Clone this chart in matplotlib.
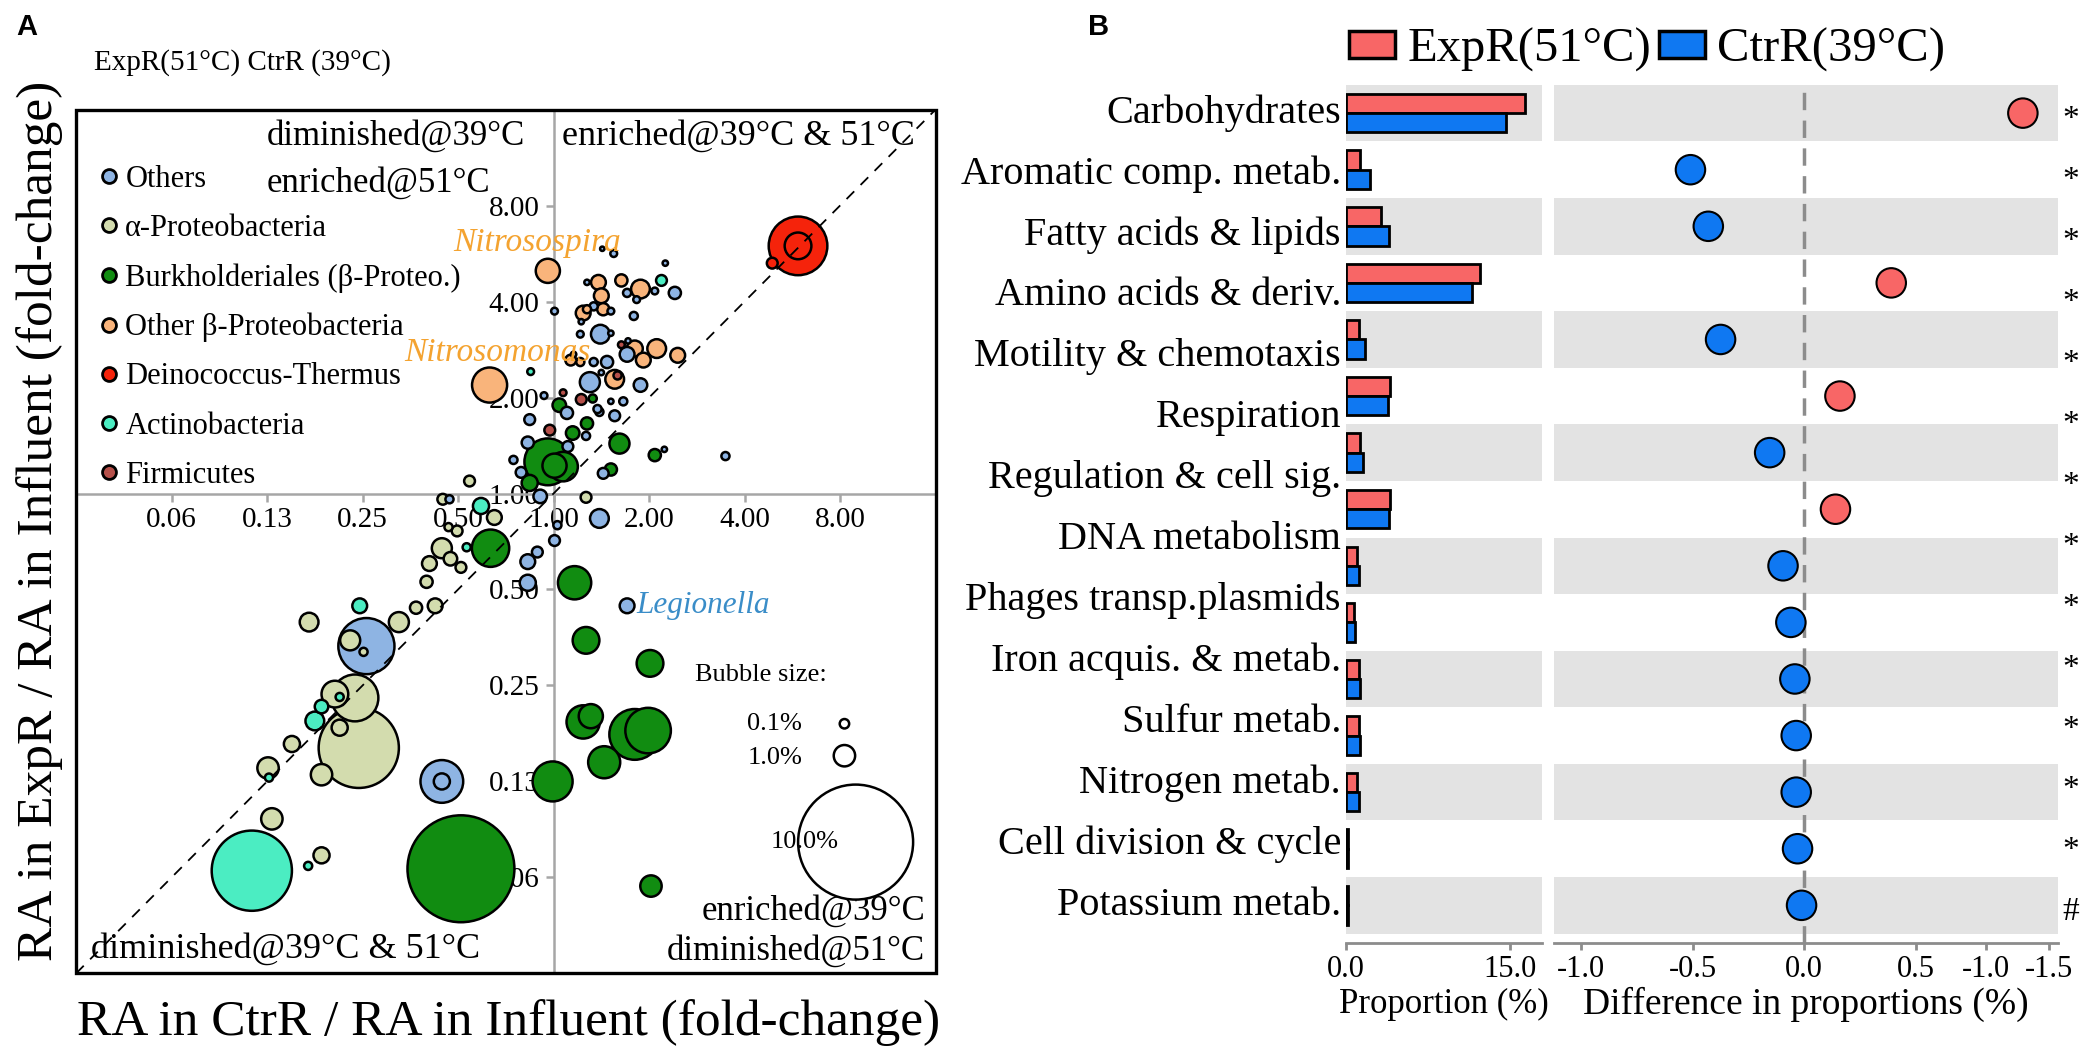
import numpy as np
import matplotlib.pyplot as plt
import matplotlib.transforms as mtransforms
from matplotlib.lines import Line2D
from matplotlib.patches import Patch, Rectangle

plt.rcParams['font.family'] = ['Liberation Serif', 'DejaVu Serif']

# ---------------- panel A data ----------------
# log2 fold-change (reactor / influent), x = CtrR 39C, y = ExpR 51C, ra = relative abundance (%)
groups = ["Others", "α-Proteobacteria", "Burkholderiales (β-Proteo.)",
          "Other β-Proteobacteria", "Deinococcus-Thermus", "Actinobacteria", "Firmicutes"]
group_colors = ["#8EB4E3", "#D3DCAE", "#118C11", "#F9B47B", "#F5230B", "#4BEDC2", "#B5504A"]

others_x = [0.63, 1.27, 0.42, 0.84, 0.49, 0.77, 0.42, 0.56, 0.38, 0.91, 0.14, 0.46, 0.64, 0.73,
            -0.25, -0.27, -0.42, -0.34, 0.15, 0.34, 0.48, 0.52, 1.16, 1.80, -0.14, -1.09, 0.04,
            0.01, 0.48, -0.17, -0.27, -0.27, 0.77, -1.96, -1.17, -1.17,
            0.51, 1.17, 1.06, 0.77, 0.87, 0.35, 0.60, 0.01, 0.29, 0.28, 0.60, 0.78, 0.21, 0.50,
            -0.10, 0.60]
others_y = [2.50, 2.09, 1.95, 1.85, 1.66, 1.45, 1.37, 1.37, 1.16, 1.13, 0.84, 0.88, 0.81, 0.96,
            0.77, 0.53, 0.35, 0.22, 0.49, 0.60, 0.85, 0.21, 0.46, 0.39, -0.03, -0.06, -0.33,
            -0.49, -0.26, -0.61, -0.71, -0.93, -1.17, -1.59, -3.00, -3.00,
            2.55, 2.40, 2.11, 2.09, 2.02, 2.20, 1.90, 1.90, 1.79, 1.66, 1.67, 1.59, 1.45, 1.26,
            1.02, 0.96]
others_ra = [0.016, 0.17, 0.04, 0.04, 0.6, 0.28, 0.04, 0.17, 0.77, 0.22, 0.17, 0.04, 0.13, 0.04,
             0.13, 0.17, 0.04, 0.13, 0.13, 0.04, 0.04, 0.13, 0.006, 0.04, 0.22, 0.04, 0.04,
             0.13, 0.6, 0.13, 0.28, 0.36, 0.28, 2.35, 1.69, 0.36,
             0.003, 0.006, 0.016, 0.04, 0.016, 0.006, 0.016, 0.016, 0.006, 0.016, 0.006, 0.006,
             0.006, 0.006, 0.016, 0.006]

alpha_x = [-0.88, -1.16, 0.34, -0.62, -1.17, -1.30, -1.08, -1.01, -1.10, -0.97, -1.33, -1.44,
           -1.24, -1.62, -2.56, -2.13, -1.99, -2.08, -2.29, -2.04, -2.24, -2.74, -2.99, -2.43,
           -2.95, -2.43]
alpha_y = [0.13, -0.06, -0.04, -0.25, -0.57, -0.73, -0.68, -0.39, -0.35, -0.77, -0.92, -1.19,
           -1.17, -1.34, -1.34, -1.53, -1.65, -2.13, -2.09, -2.65, -2.44, -2.61, -2.86, -2.93,
           -3.39, -3.77]
alpha_ra = [0.13, 0.13, 0.13, 0.28, 0.77, 0.28, 0.22, 0.13, 0.04, 0.13, 0.17, 0.17, 0.28, 0.77,
            0.6, 0.77, 0.04, 1.87, 1.14, 4.25, 0.36, 0.36, 1.0, 1.0, 1.0, 0.36]

burk_x = [-0.06, 0.01, 0.10, 0.69, 1.06, 0.60, 0.35, 0.06, 0.41, -0.25, 0.20, -0.66, 0.22, 0.34,
          1.01, 0.31, 0.39, 0.85, 0.99, 0.53, -0.01, 1.02, -0.97]
burk_y = [0.33, 0.29, 0.28, 0.52, 0.40, 0.25, 0.73, 0.92, 0.99, 0.11, 0.63, -0.57, -0.93, -1.53,
          -1.77, -2.38, -2.32, -2.51, -2.47, -2.80, -3.00, -4.09, -3.91]
burk_ra = [1.87, 1.07, 1.22, 0.77, 0.17, 0.17, 0.17, 0.22, 0.04, 0.36, 0.22, 1.48, 1.34, 1.14,
           1.14, 1.34, 1.07, 2.06, 1.81, 1.3, 1.58, 1.0, 8.2]

beta_x = [-0.06, -0.67, 0.47, 0.71, 0.91, 0.50, 0.31, 0.35, 0.52, 0.85, 1.08, 0.94, 1.30, 0.18,
          0.28, 0.64]
beta_y = [2.32, 1.13, 2.20, 2.22, 2.13, 2.06, 1.88, 1.92, 1.92, 1.51, 1.51, 1.39, 1.44, 1.39,
          1.37, 1.19]
beta_ra = [1.07, 1.4, 0.28, 0.17, 0.6, 0.28, 0.28, 0.04, 0.17, 0.36, 0.6, 0.28, 0.28, 0.13,
           0.04, 0.6]

deino_x = [2.56, 2.56, 2.29]
deino_y = [2.58, 2.58, 2.40]
deino_ra = [2.5, 1.14, 0.13]

actino_x = [1.13, -0.24, -0.76, -0.91, -2.03, -2.24, -2.43, -2.50, -2.98, -3.16, -2.57]
actino_y = [2.22, 1.27, -0.13, -0.56, -1.17, -2.12, -2.22, -2.37, -2.96, -3.93, -3.88]
actino_ra = [0.13, 0.016, 0.36, 0.04, 0.28, 0.04, 0.22, 0.6, 0.04, 4.25, 0.04]

firm_x = [0.10, 0.29, 0.67, 0.71, -0.04]
firm_y = [1.05, 0.98, 1.23, 1.55, 0.66]
firm_ra = [0.016, 0.13, 0.04, 0.016, 0.13]

fc_ticks = [0.0625, 0.125, 0.25, 0.5, 1, 2, 4, 8]
fc_labels = ["0.06", "0.13", "0.25", "0.50", "1.00", "2.00", "4.00", "8.00"]

# ---------------- panel B data ----------------
categories = ["Carbohydrates", "Aromatic comp. metab.", "Fatty acids & lipids",
              "Amino acids & deriv.", "Motility & chemotaxis", "Respiration",
              "Regulation & cell sig.", "DNA metabolism", "Phages transp.plasmids",
              "Iron acquis. & metab.", "Sulfur metab.", "Nitrogen metab.",
              "Cell division & cycle", "Potassium metab."]
signif = ["*"] * 13 + ["#"]
prop_exp = [16.3, 1.3, 3.2, 12.2, 1.2, 4.0, 1.3, 4.0, 1.0, 0.7, 1.2, 1.2, 1.0, 0.2, 0.2]
prop_ctr = [14.6, 2.2, 3.9, 11.5, 1.7, 3.8, 1.6, 3.9, 1.2, 0.85, 1.3, 1.3, 1.2, 0.2, 0.2]
diff = [0.98, -0.51, -0.43, 0.39, -0.375, 0.16, -0.155, 0.14, -0.095, -0.06, -0.042, -0.036,
        -0.036, -0.03, -0.012]
diff_ticks = [-1.0, -0.5, 0.0, 0.5, 0.815, 1.095]
diff_ticklabels = ["-1.0", "-0.5", "0.0", "0.5", "-1.0", "-1.5"]

RED = "#F86666"
BLUE = "#0F78F2"


def bubble_size(ra):
    # radius (pt) follows the chart's own bubble legend: 0.1% / 1% / 10%
    r = np.interp(np.log10(ra), [-3, -1, 0, 1], [1.0, 3.4, 7.7, 41.4])
    return (2 * r) ** 2


fig = plt.figure(figsize=(20.85, 10.63), dpi=100)

# ================= panel A =================
axA = fig.add_axes([0.0365, 0.0843, 0.4122, 0.8126])
axA.set_xscale('log', base=2)
axA.set_yscale('log', base=2)
axA.set_xlim(2 ** -5, 16)
axA.set_ylim(2 ** -5, 16)

for s in ['top', 'right']:
    axA.spines[s].set_visible(False)
for s in ['left', 'bottom']:
    axA.spines[s].set_position(('data', 1.0))
    axA.spines[s].set_color('#a6a6a6')
    axA.spines[s].set_linewidth(1.8)
axA.set_xticks(fc_ticks)
axA.set_xticklabels(fc_labels)
axA.set_yticks(fc_ticks)
axA.set_yticklabels(fc_labels)
axA.minorticks_off()
axA.tick_params(axis='both', direction='out', length=6, width=1.8, color='#a6a6a6',
                labelsize=21, pad=4)
axA.add_patch(Rectangle((0, 0), 1, 1, transform=axA.transAxes, fill=False, ec='black',
                        lw=2.4, clip_on=False, zorder=10))

all_x, all_y, all_ra, all_c = [], [], [], []
sets = [(others_x, others_y, others_ra), (alpha_x, alpha_y, alpha_ra),
        (burk_x, burk_y, burk_ra), (beta_x, beta_y, beta_ra),
        (deino_x, deino_y, deino_ra), (actino_x, actino_y, actino_ra),
        (firm_x, firm_y, firm_ra)]
for (gx, gy, gra), col in zip(sets, group_colors):
    all_x += gx
    all_y += gy
    all_ra += gra
    all_c += [col] * len(gx)
all_x = 2.0 ** np.array(all_x)
all_y = 2.0 ** np.array(all_y)
all_ra = np.array(all_ra)
order = np.argsort(-all_ra)
axA.scatter(all_x[order], all_y[order], s=bubble_size(all_ra[order]),
            c=[all_c[i] for i in order], edgecolors='black', linewidths=1.8, zorder=3)

axA.plot([2 ** -5, 16], [2 ** -5, 16], ls=(0, (6, 5)), color='black', lw=1.3, zorder=5)

handles = [Line2D([], [], marker='o', ls='', markersize=10, markerfacecolor=c,
                  markeredgecolor='black', markeredgewidth=2) for c in group_colors]
axA.legend(handles, groups, loc='upper left', bbox_to_anchor=(-0.012, 0.968), frameon=False,
           fontsize=22, labelspacing=0.66, handletextpad=0.05, handlelength=1.0)

qfs = 25
axA.text(0.222, 0.969, "diminished@39°C", transform=axA.transAxes, fontsize=qfs, va='center')
axA.text(0.222, 0.915, "enriched@51°C", transform=axA.transAxes, fontsize=qfs, va='center')
axA.text(0.565, 0.969, "enriched@39°C & 51°C", transform=axA.transAxes, fontsize=26, va='center')
axA.text(0.017, 0.028, "diminished@39°C & 51°C", transform=axA.transAxes, fontsize=26,
         va='center')
axA.text(0.988, 0.072, "enriched@39°C", transform=axA.transAxes, fontsize=qfs, va='center',
         ha='right')
axA.text(0.988, 0.026, "diminished@51°C", transform=axA.transAxes, fontsize=qfs, va='center',
         ha='right')

# genus labels
axA.annotate("Nitrosospira", (2 ** beta_x[0], 2 ** beta_y[0]), xytext=(-8, 20),
             textcoords='offset points', ha='center', va='center', style='italic',
             fontsize=24, color='#F4A330', zorder=4)
axA.annotate("Nitrosomonas", (2 ** beta_x[1], 2 ** beta_y[1]), xytext=(6, 23),
             textcoords='offset points', ha='center', va='center', style='italic',
             fontsize=24, color='#F4A330', zorder=4)
axA.annotate("Legionella", (2 ** others_x[32], 2 ** others_y[32]), xytext=(7, 0),
             textcoords='offset points', ha='left', va='center', style='italic',
             fontsize=22.5, color='#3A8DC8', zorder=4)

# bubble size legend
axA.text(0.72, 0.345, "Bubble size:", transform=axA.transAxes, fontsize=19, va='center')
axA.text(0.845, 0.289, "0.1%", transform=axA.transAxes, fontsize=19, va='center', ha='right')
axA.text(0.845, 0.249, "1.0%", transform=axA.transAxes, fontsize=19, va='center', ha='right')
axA.text(0.887, 0.152, "10.0%", transform=axA.transAxes, fontsize=19, va='center', ha='right',
         zorder=8)
axA.scatter([0.894, 0.894, 0.907], [0.289, 0.252, 0.152], s=bubble_size(np.array([0.1, 1, 10])),
            transform=axA.transAxes, facecolors='white', edgecolors='black', linewidths=1.8,
            zorder=6, clip_on=False)

fig.text(0.0077, 0.975, "A", fontsize=21, fontweight='bold', family='Liberation Sans',
         va='center')
fig.text(0.045, 0.941, "ExpR(51°C) CtrR (39°C)", fontsize=21, va='center')
fig.text(0.019, 0.51, "RA in ExpR / RA in Influent (fold-change)", fontsize=37, rotation=90,
         ha='center', va='center')
fig.text(0.244, 0.038, "RA in CtrR / RA in Influent (fold-change)", fontsize=37,
         ha='center', va='center')

# ================= panel B =================
rows = np.arange(len(prop_exp))
axL = fig.add_axes([0.6455, 0.1132, 0.0942, 0.807])
axR = fig.add_axes([0.7455, 0.1132, 0.2415, 0.807])

for ax in (axL, axR):
    for i in range(0, len(rows), 2):
        ax.axhspan(i - 0.5, i + 0.5, color='#e3e3e3', lw=0, zorder=0)
    ax.set_ylim(14.66, -0.5)
    ax.set_yticks([])
    for s in ['top', 'right', 'left']:
        ax.spines[s].set_visible(False)
    ax.spines['bottom'].set_color('#8c8c8c')
    ax.spines['bottom'].set_linewidth(2)
    ax.tick_params(axis='x', direction='out', length=5, width=2, color='#8c8c8c',
                   labelsize=22, pad=4)

axL.barh(rows - 0.17, prop_exp, height=0.34, color=RED, edgecolor='black', lw=2, zorder=2)
axL.barh(rows + 0.17, prop_ctr, height=0.34, color=BLUE, edgecolor='black', lw=2, zorder=2)
axL.set_xlim(0, 17.9)
axL.set_xticks([0, 15])
axL.set_xticklabels(["0.0", "15.0"])
axL.set_xlabel("Proportion (%)", fontsize=25, labelpad=3)

axR.axvline(0, color='#8c8c8c', ls=(0, (5, 3)), lw=2.5, zorder=1)
axR.scatter(diff, rows, s=450, c=[RED if d > 0 else BLUE for d in diff], edgecolors='black',
            linewidths=1.5, zorder=3)
axR.set_xlim(-1.12, 1.137)
axR.set_xticks(diff_ticks)
axR.set_xticklabels(diff_ticklabels)
axR.set_xlabel("Difference in proportions (%)", fontsize=27, labelpad=2)

lab_y = np.linspace(0, len(rows) - 1, len(categories))
trL = mtransforms.blended_transform_factory(axL.transAxes, axL.transData)
trR = mtransforms.blended_transform_factory(axR.transAxes, axR.transData)
for yy, name, sg in zip(lab_y, categories, signif):
    axL.text(-0.025, yy, name, transform=trL, ha='right', va='center', fontsize=29)
    axR.text(1.025, yy + 0.12, sg, transform=trR, ha='center', va='center', fontsize=24)

fig.legend(handles=[Patch(fc=RED, ec='black', lw=2.5, label='ExpR(51°C)'),
                    Patch(fc=BLUE, ec='black', lw=2.5, label='CtrR(39°C)')],
           loc='center', bbox_to_anchor=(0.79, 0.953), ncol=2, frameon=False, fontsize=35,
           handlelength=0.95, handleheight=0.5, columnspacing=0.15, handletextpad=0.25)
fig.text(0.522, 0.975, "B", fontsize=21, fontweight='bold', family='Liberation Sans',
         va='center')

fig.savefig("out.png", dpi=100)
